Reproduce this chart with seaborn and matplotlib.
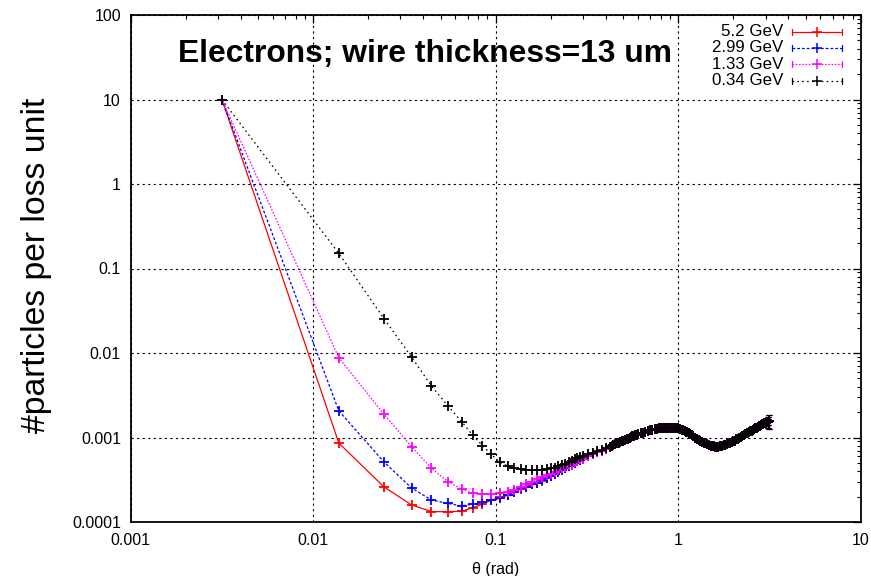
import matplotlib
matplotlib.use("Agg")
import matplotlib.pyplot as plt
from matplotlib.lines import Line2D
from matplotlib.ticker import LogLocator, FixedLocator, FixedFormatter, NullFormatter
import numpy as np
import pandas as pd
import seaborn as sns

# scattering angle (rad) at the sparse low-angle samples, shared by all beams
theta_head = [0.00316, 0.0138, 0.0244, 0.0346, 0.0444, 0.0547, 0.0649, 0.0749,
              0.0845, 0.0945, 0.105, 0.116, 0.126, 0.137, 0.147, 0.158, 0.168,
              0.179, 0.19, 0.2, 0.21, 0.22, 0.23, 0.24, 0.25, 0.26, 0.27, 0.28,
              0.29, 0.30, 0.32, 0.34, 0.36, 0.38, 0.40]

# particles per loss unit, low-angle part, one list per beam energy
loss_5p2 = [10, 0.00086, 0.00026, 0.000159, 0.000133, 0.000132, 0.000134, 0.000148,
            0.000163, 0.000182, 0.000195, 0.000208, 0.000226, 0.000246, 0.00026,
            0.000278, 0.00029, 0.000308, 0.00033, 0.000348, 0.000368, 0.000388,
            0.00041, 0.000435, 0.000455, 0.000478, 0.0005, 0.00052, 0.00054,
            0.00056, 0.0006, 0.00063, 0.00067, 0.0007, 0.00074]
loss_2p99 = [10, 0.00207, 0.000513, 0.000252, 0.000182, 0.000166, 0.000155, 0.000163,
             0.000172, 0.000182, 0.000191, 0.000209, 0.000229, 0.00025, 0.000262,
             0.00028, 0.000292, 0.00031, 0.000334, 0.00035, 0.00037, 0.00039,
             0.00041, 0.00044, 0.00046, 0.00048, 0.0005, 0.00052, 0.00054,
             0.00056, 0.0006, 0.00063, 0.00067, 0.0007, 0.00074]
loss_1p33 = [10, 0.0088, 0.00188, 0.000778, 0.000432, 0.0003, 0.000244, 0.000219,
             0.000215, 0.000214, 0.00022, 0.000229, 0.00024, 0.00026, 0.00028,
             0.0003, 0.00032, 0.00034, 0.00036, 0.00037, 0.00039, 0.00041,
             0.00043, 0.00045, 0.00047, 0.00049, 0.00051, 0.00053, 0.00055,
             0.00056, 0.0006, 0.00063, 0.00067, 0.0007, 0.00074]
loss_0p34 = [10, 0.151, 0.0255, 0.0089, 0.00407, 0.00236, 0.00154, 0.00106,
             0.0008, 0.00063, 0.00051, 0.00046, 0.00043, 0.00042, 0.00041,
             0.00041, 0.00041, 0.00041, 0.00042, 0.00043, 0.00044, 0.00046,
             0.00047, 0.00049, 0.00051, 0.00053, 0.00055, 0.00057, 0.00058,
             0.0006, 0.00063, 0.00066, 0.00069, 0.00072, 0.00075]

# large-angle part, where all four beams coincide
theta_tail = [0.42, 0.43, 0.44, 0.45, 0.46, 0.47, 0.48, 0.49, 0.50, 0.51, 0.52,
              0.53, 0.54, 0.55, 0.56, 0.57, 0.58, 0.59,
              0.60, 0.62, 0.64, 0.66, 0.68, 0.70, 0.72, 0.74, 0.76, 0.78, 0.80,
              0.82, 0.84, 0.86, 0.88, 0.90, 0.92, 0.94, 0.96, 0.98, 1.00, 1.02,
              1.04, 1.06, 1.08, 1.10, 1.12, 1.14, 1.16, 1.18, 1.20,
              1.23, 1.26, 1.29, 1.32, 1.35, 1.38, 1.41, 1.44, 1.47, 1.50, 1.53,
              1.56, 1.59, 1.62, 1.65, 1.68, 1.71, 1.74, 1.77, 1.80,
              1.84, 1.88, 1.92, 1.96, 2.00, 2.04, 2.08, 2.12, 2.16, 2.20, 2.24,
              2.28, 2.32, 2.36, 2.40, 2.44, 2.48, 2.52, 2.56, 2.60, 2.64, 2.68,
              2.72, 2.76, 2.80, 2.84, 2.88, 2.92, 2.96, 3.00, 3.04, 3.08, 3.11,
              3.14]
loss_tail = [0.00078, 0.0008, 0.00082, 0.00083, 0.00085, 0.00087, 0.00088, 0.0009,
             0.00092, 0.00093, 0.00095, 0.00097, 0.00099, 0.00101, 0.00103, 0.00104,
             0.00106, 0.00108,
             0.00109, 0.00112, 0.00114, 0.00117, 0.0012, 0.00122, 0.00124, 0.00125,
             0.00127, 0.00128, 0.00129, 0.0013, 0.00131, 0.00131, 0.00131, 0.00131,
             0.00131, 0.00131, 0.0013, 0.00129, 0.00128, 0.00126, 0.00124, 0.00122,
             0.0012, 0.00117, 0.00115, 0.00112, 0.00109, 0.00107, 0.00104,
             0.001, 0.00097, 0.00094, 0.00091, 0.00089, 0.00087, 0.00085, 0.00083,
             0.00081, 0.0008, 0.00079, 0.00079, 0.00078, 0.00078, 0.00078, 0.00079,
             0.00079, 0.0008, 0.00081, 0.00082,
             0.00084, 0.00085, 0.00087, 0.00088, 0.0009, 0.00092, 0.00095, 0.00097,
             0.001, 0.00102, 0.00104, 0.00107, 0.00109, 0.00112, 0.00114, 0.00116,
             0.00119, 0.00121, 0.00124, 0.00126, 0.00128, 0.00131, 0.00133, 0.00136,
             0.00138, 0.0014, 0.00143, 0.00145, 0.00147, 0.00149, 0.00151, 0.00152,
             0.00153, 0.00155]
# statistical errors on the last few large-angle samples
theta_err = [3.08, 3.11, 3.14]
loss_err = [0.00012, 0.00022, 0.00028]

energies = ["5.2 GeV", "2.99 GeV", "1.33 GeV", "0.34 GeV"]
heads = [loss_5p2, loss_2p99, loss_1p33, loss_0p34]
colors = ["#ff0000", "#0000ff", "#ff00ff", "#000000"]
dash_styles = ["-", (0, (2.2, 1.6)), (0, (1.3, 1.3)), (0, (1.3, 2.6))]

frames = []
for label, head in zip(energies, heads):
    frames.append(pd.DataFrame({"theta": theta_head + theta_tail,
                                "loss": head + loss_tail,
                                "beam": label}))
data = pd.concat(frames, ignore_index=True)

sns.set_theme(style="white")
plt.rcParams["font.family"] = ["Liberation Sans", "DejaVu Sans"]
plt.rcParams["mathtext.fontset"] = "dejavusans"

fig = plt.figure(figsize=(8.71, 5.76), dpi=100)
W, H = 871.0, 576.0
ax = fig.add_axes([130.7 / W, (H - 522) / H, (861 - 130.7) / W, (522 - 15) / H])

for label, col, ls in zip(energies, colors, dash_styles):
    sub = data[data["beam"] == label]
    sns.lineplot(data=sub, x="theta", y="loss", ax=ax, color=col,
                 linestyle=ls, linewidth=0.9, marker="+", markersize=7,
                 markeredgewidth=1.3, markeredgecolor=col, estimator=None,
                 sort=True, legend=False)
    ax.errorbar(theta_err, loss_tail[-3:], yerr=loss_err, fmt="none",
                ecolor=col, elinewidth=0.8, capsize=2.2, capthick=0.8)

ax.set_xscale("log")
ax.set_yscale("log")
ax.set_xlim(0.001, 10)
ax.set_ylim(0.0001, 100)

xt = [0.001, 0.01, 0.1, 1, 10]
xt_lab = ["0.001", "0.01", "0.1", "1", "10"]
yt = [0.0001, 0.001, 0.01, 0.1, 1, 10, 100]
yt_lab = ["0.0001", "0.001", "0.01", "0.1", "1", "10", "100"]
ax.xaxis.set_major_locator(FixedLocator(xt))
ax.xaxis.set_major_formatter(FixedFormatter(xt_lab))
ax.yaxis.set_major_locator(FixedLocator(yt))
ax.yaxis.set_major_formatter(FixedFormatter(yt_lab))
ax.xaxis.set_minor_locator(LogLocator(base=10, subs=np.arange(2, 10), numticks=20))
ax.yaxis.set_minor_locator(LogLocator(base=10, subs=np.arange(2, 10), numticks=20))
ax.xaxis.set_minor_formatter(NullFormatter())
ax.yaxis.set_minor_formatter(NullFormatter())

ax.tick_params(which="major", direction="in", length=6, width=0.9, color="black",
               top=True, right=True, labelsize=11.5, labelcolor="black")
ax.tick_params(axis="x", which="major", pad=8)
ax.tick_params(axis="y", which="major", pad=7)
ax.tick_params(which="minor", direction="in", length=3, width=0.8, color="black",
               top=True, right=True)
ax.grid(True, which="major", color="black", linestyle=(0, (2, 3)), linewidth=0.8)
for sp in ax.spines.values():
    sp.set_color("black")
    sp.set_linewidth(1.3)
ax.set_facecolor("white")

ax.set_xlabel("θ (rad)", fontsize=11.5, color="black")
ax.xaxis.set_label_coords(0.5, -0.078)
ax.set_ylabel("#particles per loss unit", fontsize=24.3, color="black")
ax.yaxis.set_label_coords(-0.108, 0.507)

ax.text(178 / W, 1 - 54 / H, "Electrons; wire thickness=13 um", transform=fig.transFigure,
        fontsize=22.9, fontweight="bold", ha="left", va="center", color="black")

# gnuplot-style key in the upper right corner
rows_y = [31.7, 48.0, 64.3, 80.7]
x0, x1, xt_right = 791.7, 841.7, 783.0
for label, col, ls, yy in zip(energies, colors, dash_styles, rows_y):
    fy = 1 - yy / H
    fig.text(xt_right / W, fy, label, fontsize=12.2, ha="right", va="center",
             color="black")
    fig.add_artist(Line2D([x0 / W, x1 / W], [fy, fy], color=col, linestyle=ls,
                          linewidth=0.9, transform=fig.transFigure))
    for xc in (x0, x1):
        fig.add_artist(Line2D([xc / W, xc / W], [fy - 3 / H, fy + 3 / H], color=col,
                              linewidth=0.9, transform=fig.transFigure))
    fig.add_artist(Line2D([(x0 + x1) / 2 / W], [fy], color=col, marker="+",
                          markersize=7, markeredgewidth=1.1, linestyle="none",
                          transform=fig.transFigure))

fig.savefig("out.png", dpi=100, facecolor="white")
